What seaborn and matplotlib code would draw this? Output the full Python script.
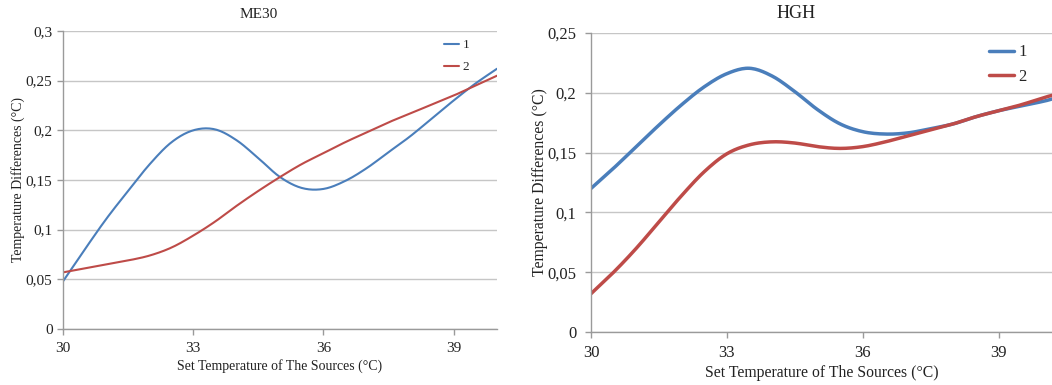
import numpy as np
import pandas as pd
import matplotlib
matplotlib.use("Agg")
import matplotlib.pyplot as plt
import seaborn as sns
from matplotlib.ticker import FuncFormatter, FixedLocator

# ---------------- data ----------------
series_names = ["1", "2"]
x_ticks = [30, 33, 36, 39]

me30_x = [30, 30.5, 31, 31.5, 32, 32.5, 33, 33.5, 34, 34.5, 35, 35.5,
          36, 36.5, 37, 37.5, 38, 38.5, 39, 39.5, 40]
me30_s1 = [0.048, 0.080, 0.111, 0.139, 0.166, 0.188, 0.200, 0.201, 0.190, 0.172,
           0.153, 0.142, 0.141, 0.149, 0.162, 0.178, 0.194, 0.212, 0.230, 0.247, 0.262]
me30_s2 = [0.057, 0.061, 0.065, 0.069, 0.074, 0.082, 0.094, 0.108, 0.124, 0.139,
           0.153, 0.166, 0.177, 0.188, 0.198, 0.208, 0.217, 0.226, 0.235, 0.245, 0.255]
me30_yticks = [0, 0.05, 0.1, 0.15, 0.2, 0.25, 0.3]

hgh_x = [30, 30.5, 31, 31.5, 32, 32.5, 33, 33.5, 34, 34.5, 35, 35.5,
         36, 36.5, 37, 37.5, 38, 38.5, 39, 39.5, 40, 40.2]
hgh_s1 = [0.120, 0.137, 0.155, 0.173, 0.190, 0.205, 0.216, 0.2205, 0.214, 0.201,
          0.186, 0.174, 0.1675, 0.1655, 0.1665, 0.170, 0.174, 0.180, 0.185, 0.189, 0.193, 0.195]
hgh_s2 = [0.032, 0.050, 0.070, 0.092, 0.114, 0.134, 0.149, 0.1565, 0.159, 0.158,
          0.155, 0.1535, 0.155, 0.159, 0.164, 0.169, 0.174, 0.180, 0.185, 0.190, 0.196, 0.198]
hgh_yticks = [0, 0.05, 0.1, 0.15, 0.2, 0.25]

titles = ["ME30", "HGH"]
xlabel = "Set Temperature of The Sources (°C)"
ylabel = "Temperature Differences (°C)"

# ---------------- style ----------------
sns.set_theme(style="white")
plt.rcParams["font.family"] = ["Liberation Serif", "DejaVu Serif"]
palette = {"1": "#4a7ebb", "2": "#be4b48"}
grid_c = "#c6c6c6"
spine_c = "#9a9a9a"
text_c = "#222222"

fig = plt.figure(figsize=(10.52, 3.85), dpi=100)
W, H = 1052, 385

def px_axes(l, r, t, b):
    return fig.add_axes([l / W, 1 - b / H, (r - l) / W, (b - t) / H])

comma = FuncFormatter(lambda v, p: f"{v:g}".replace(".", ","))

def smooth(x, y, n=12):
    """Catmull-Rom rendering of the smoothed line (like a spreadsheet 'smoothed line')."""
    x = np.asarray(x, float); y = np.asarray(y, float)
    px = np.concatenate([[2 * x[0] - x[1]], x, [2 * x[-1] - x[-2]]])
    py = np.concatenate([[2 * y[0] - y[1]], y, [2 * y[-1] - y[-2]]])
    xs, ys = [], []
    t = np.linspace(0, 1, n, endpoint=False)
    for i in range(1, len(px) - 2):
        for P, out in ((px, xs), (py, ys)):
            p0, p1, p2, p3 = P[i - 1], P[i], P[i + 1], P[i + 2]
            out.extend(0.5 * (2 * p1 + (-p0 + p2) * t + (2 * p0 - 5 * p1 + 4 * p2 - p3) * t ** 2
                              + (-p0 + 3 * p1 - 3 * p2 + p3) * t ** 3))
    xs.append(x[-1]); ys.append(y[-1])
    return np.array(xs), np.array(ys)

def long_df(x, s1, s2):
    frames = []
    for name, s in zip(series_names, (s1, s2)):
        xs, ys = smooth(x, s)
        frames.append(pd.DataFrame({"x": xs, "y": ys, "series": name}))
    return pd.concat(frames, ignore_index=True)

def style_axes(ax, yticks, xmax, fs, ypad, xpad):
    ax.set_xlim(30, xmax)
    ax.set_ylim(yticks[0], yticks[-1])
    ax.yaxis.set_major_locator(FixedLocator(yticks))
    ax.xaxis.set_major_locator(FixedLocator(x_ticks))
    ax.yaxis.set_major_formatter(comma)
    ax.grid(axis="y", color=grid_c, lw=1.0)
    ax.grid(axis="x", visible=False)
    ax.set_axisbelow(True)
    for s in ["top", "right"]:
        ax.spines[s].set_visible(False)
    for s in ["left", "bottom"]:
        ax.spines[s].set_color(spine_c)
        ax.spines[s].set_linewidth(1.0)
    ax.tick_params(axis="both", which="major", direction="out", length=4.5,
                   width=1.0, color=spine_c, labelsize=fs, labelcolor=text_c,
                   left=True, bottom=True)
    ax.tick_params(axis="y", pad=ypad)
    ax.tick_params(axis="x", pad=xpad)

def labels(ax, fs, ylx, xly):
    ax.set_xlabel(xlabel, fontsize=fs, color=text_c)
    ax.set_ylabel(ylabel, fontsize=fs, color=text_c)
    ax.xaxis.set_label_coords(0.5, xly)
    ax.yaxis.set_label_coords(ylx, 0.5)
    ax.xaxis.label.set_va("center")
    ax.yaxis.label.set_va("center")

# ---------------- left panel ----------------
ax1 = px_axes(63, 497, 31, 329)
sns.lineplot(data=long_df(me30_x, me30_s1, me30_s2), x="x", y="y", hue="series",
             palette=palette, lw=1.5, ax=ax1, sort=False, estimator=None)
style_axes(ax1, me30_yticks, 40, 11, 3, 5)
labels(ax1, 10, (18 - 63) / 434, (329 - 366) / 298)
ax1.legend(frameon=False, loc="upper right", bbox_to_anchor=(0.955, 1.0),
           fontsize=9.5, handlelength=1.1, handletextpad=0.3, labelspacing=0.75,
           borderaxespad=0.2)
fig.text(259 / W, 1 - 15 / H, titles[0], ha="center", va="center",
         fontsize=11, color=text_c)

# ---------------- right panel ----------------
ax2 = px_axes(591, 1052, 33, 332)
sns.lineplot(data=long_df(hgh_x, hgh_s1, hgh_s2), x="x", y="y", hue="series",
             palette=palette, lw=2.5, ax=ax2, sort=False, estimator=None)
style_axes(ax2, hgh_yticks, 40.18, 12, 6, 5)
labels(ax2, 11.3, (540 - 591) / 461, (332.3 - 373) / 299)
ax2.legend(frameon=False, loc="upper right", bbox_to_anchor=(0.967, 0.995),
           fontsize=12, handlelength=1.5, handletextpad=0.25, labelspacing=0.5,
           borderaxespad=0.2)
fig.text(796 / W, 1 - 14 / H, titles[1], ha="center", va="center",
         fontsize=13, color=text_c)

fig.savefig("out.png", dpi=100, facecolor="white")
